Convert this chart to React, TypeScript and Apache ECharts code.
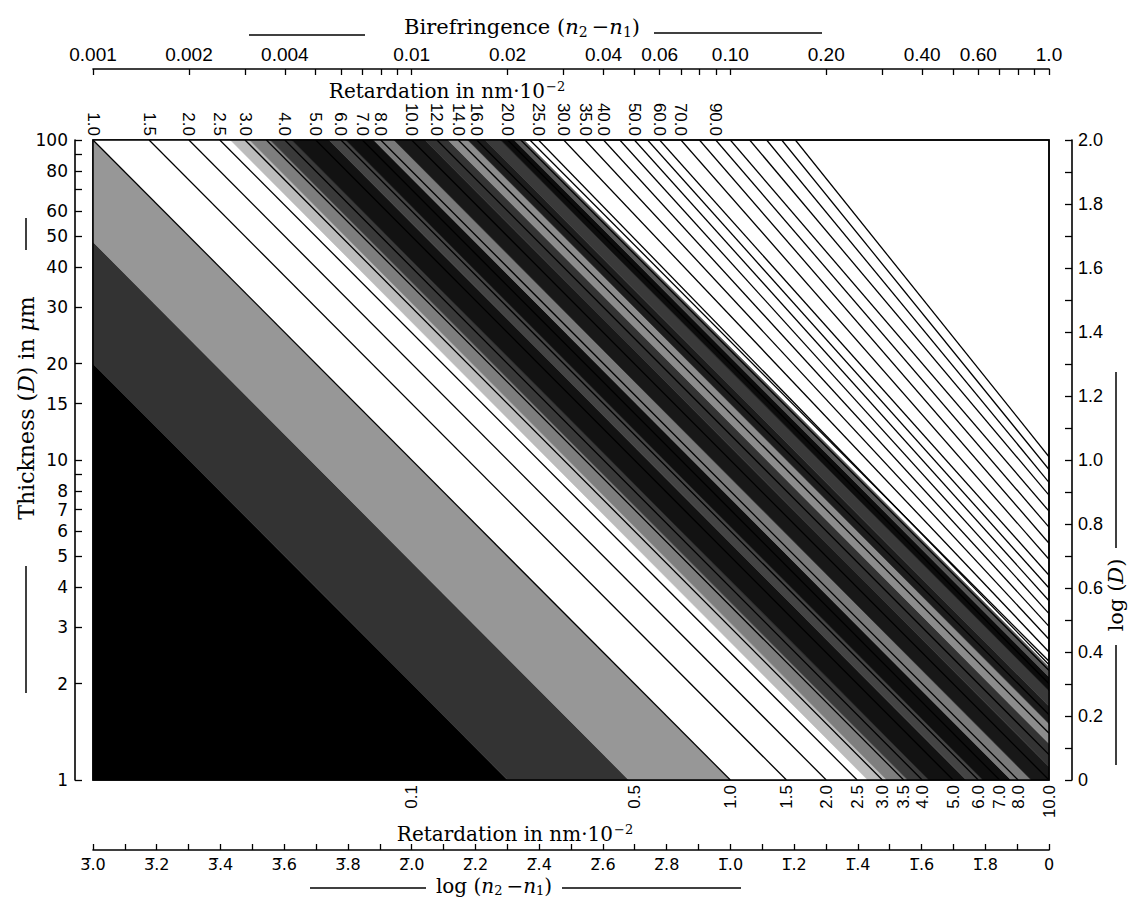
import React, { useEffect, useRef } from "react";
import * as echarts from "echarts";

// ---- Bottom axis: log(n2 - n1) ----
const logDnTickValues = [-3.0, -2.9, -2.8, -2.7, -2.6, -2.5, -2.4, -2.3, -2.2, -2.1, -2.0, -1.9, -1.8, -1.7, -1.6, -1.5, -1.4, -1.3, -1.2, -1.1, -1.0, -0.9, -0.8, -0.7, -0.6, -0.5, -0.4, -0.3, -0.2, -0.1, 0];
const logDnLabelValues = [-3.0, -2.8, -2.6, -2.4, -2.2, -2.0, -1.8, -1.6, -1.4, -1.2, -1.0, -0.8, -0.6, -0.4, -0.2, 0];
const logDnLabels = ["3\u0305.0", "3\u0305.2", "3\u0305.4", "3\u0305.6", "3\u0305.8", "2\u0305.0", "2\u0305.2", "2\u0305.4", "2\u0305.6", "2\u0305.8", "1\u0305.0", "1\u0305.2", "1\u0305.4", "1\u0305.6", "1\u0305.8", "0"];

// ---- Top axis: birefringence (n2 - n1) ----
const birefTicks = [0.001, 0.002, 0.003, 0.004, 0.005, 0.006, 0.007, 0.008, 0.009, 0.01, 0.02, 0.03, 0.04, 0.05, 0.06, 0.07, 0.08, 0.09, 0.1, 0.2, 0.3, 0.4, 0.5, 0.6, 0.7, 0.8, 0.9, 1.0];
const birefLabelValues = [0.001, 0.002, 0.004, 0.01, 0.02, 0.04, 0.06, 0.1, 0.2, 0.4, 0.6, 1.0];
const birefLabels = ["0.001", "0.002", "0.004", "0.01", "0.02", "0.04", "0.06", "0.10", "0.20", "0.40", "0.60", "1.0"];

// ---- Retardation labels (in nm·10^-2) ----
const retTopValues = [1.0, 1.5, 2.0, 2.5, 3.0, 4.0, 5.0, 6.0, 7.0, 8.0, 10.0, 12.0, 14.0, 16.0, 20.0, 25.0, 30.0, 35.0, 40.0, 50.0, 60.0, 70.0, 90.0];
const retBottomValues = [0.1, 0.5, 1.0, 1.5, 2.0, 2.5, 3.0, 3.5, 4.0, 5.0, 6.0, 7.0, 8.0, 10.0];

// ---- Left axis: thickness D in µm ----
const thicknessTicks = [1, 2, 3, 4, 5, 6, 7, 8, 9, 10, 15, 20, 30, 40, 50, 60, 70, 80, 90, 100];
const thicknessLabels = [1, 2, 3, 4, 5, 6, 7, 8, 10, 15, 20, 30, 40, 50, 60, 80, 100];

// ---- Right axis: log(D) ----
const logDTicks = [0, 0.1, 0.2, 0.3, 0.4, 0.5, 0.6, 0.7, 0.8, 0.9, 1.0, 1.1, 1.2, 1.3, 1.4, 1.5, 1.6, 1.7, 1.8, 1.9, 2.0];
const logDLabelValues = [0, 0.2, 0.4, 0.6, 0.8, 1.0, 1.2, 1.4, 1.6, 1.8, 2.0];
const logDLabels = ["0", "0.2", "0.4", "0.6", "0.8", "1.0", "1.2", "1.4", "1.6", "1.8", "2.0"];

// ---- Iso-retardation lines (nm·10^-2) ----
const retardationLines = [1.0, 1.5, 2.0, 2.5, 3.0, 3.5, 4.0, 5.0, 6.0, 7.0, 8.0, 10.0, 12.0, 14.0, 16.0, 20.0, 22.0, 23.5];

// ---- Upper-right fan of lines: retardation where each meets the top edge, log(D) where it meets the right edge ----
const fanTopR = [25, 30, 35, 40, 45, 50, 55, 60, 70, 80, 90, 100, 115, 130, 145, 160];
const fanRightLogD = [0.36, 0.40, 0.44, 0.48, 0.52, 0.56, 0.60, 0.64, 0.69, 0.74, 0.79, 0.84, 0.89, 0.93, 0.97, 1.01];

// ---- Grey interference bands (retardation ranges, nm·10^-2) ----
const bandLower = [0, 0.2, 0.48, 1.0, 2.7, 3.1, 3.6, 4.2, 5.5, 6.2, 7.6, 8.8, 11, 13, 15, 17, 19, 21];
const bandUpper = [0.2, 0.48, 1.0, 2.7, 3.1, 3.6, 4.2, 5.5, 6.2, 7.6, 8.8, 11, 13, 15, 17, 19, 21, 22.5];
const bandShade = ["#000000", "#333333", "#979797", "#ffffff", "#bcbcbc", "#7e7e7e", "#3a3a3a", "#121212", "#444444", "#0f0f0f", "#7a7a7a", "#181818", "#333333", "#8c8c8c", "#1c1c1c", "#3a3a3a", "#0c0c0c", "#555555"];

const log10 = (v: number) => Math.log10(v);
const pick = (v: number, vals: number[], labels: (string | number)[]) => {
  for (let i = 0; i < vals.length; i++) if (Math.abs(vals[i] - v) < 1e-6) return String(labels[i]);
  return "";
};

// x = log(dn) in [-3,0], y = log(D) in [0,2]; log R = x + y + 1
const clipHalf = (poly: number[][], f: (p: number[]) => number) => {
  const out: number[][] = [];
  for (let i = 0; i < poly.length; i++) {
    const cur = poly[i];
    const prev = poly[(i + poly.length - 1) % poly.length];
    const fc = f(cur), fp = f(prev);
    const inter = () => {
      const t = fp / (fp - fc);
      return [prev[0] + t * (cur[0] - prev[0]), prev[1] + t * (cur[1] - prev[1])];
    };
    if (fc >= 0) {
      if (fp < 0) out.push(inter());
      out.push(cur);
    } else if (fp >= 0) {
      out.push(inter());
    }
  }
  return out;
};

const SERIF = "'DejaVu Serif', 'Liberation Serif', serif";
const SANS = "'Liberation Sans', 'DejaVu Sans', sans-serif";
const DJ = "'DejaVu Sans', sans-serif";

export default function App() {
  const ref = useRef<HTMLDivElement>(null);
  useEffect(() => {
    document.body.style.margin = "0";
    const chart = echarts.init(ref.current!, null, { renderer: "svg" });

    const gridLeft = 93, gridTop = 140, gridW = 956, gridH = 640;
    const rich = (size: number) => ({
      a: { fontFamily: SERIF, fontSize: size, fill: "#000" },
      i: { fontFamily: SERIF, fontSize: size, fontStyle: "italic", fill: "#000" },
      s: { fontFamily: SERIF, fontSize: Math.round(size * 0.65), fill: "#000", padding: [Math.round(size * 0.45), 0, 0, 0] },
    });
    const supRich = { fontFamily: SERIF, fontSize: 13, fill: "#000", padding: [0, 0, 10, 1] };

    const lineItem = (api: any, p1: number[], p2: number[]) => {
      const a = api.coord(p1), b = api.coord(p2);
      return { type: "line", shape: { x1: a[0], y1: a[1], x2: b[0], y2: b[1] }, style: { stroke: "#000", lineWidth: 1.3 } };
    };

    const option: any = {
      animation: false,
      backgroundColor: "#ffffff",
      grid: { left: gridLeft, top: gridTop, width: gridW, height: gridH, show: true, backgroundColor: "#ffffff", borderColor: "#000", borderWidth: 1.5 },
      xAxis: [
        {
          type: "value", min: -3, max: 0, position: "bottom", offset: 70,
          axisLine: { show: true, onZero: false, lineStyle: { color: "#000", width: 1.6 } },
          axisTick: { show: true, inside: true, length: 6, customValues: logDnTickValues, lineStyle: { color: "#000", width: 1.3 } },
          axisLabel: { customValues: logDnLabelValues, formatter: (v: number) => pick(v, logDnLabelValues, logDnLabels), color: "#000", fontSize: 16, fontFamily: DJ, margin: 6 },
          splitLine: { show: false },
        },
        {
          type: "value", min: -3, max: 0, position: "bottom", offset: 0,
          axisLine: { show: false, onZero: false }, axisTick: { show: false },
          axisLabel: { customValues: retBottomValues.map((r) => log10(r) - 1), formatter: (v: number) => pick(v, retBottomValues.map((r) => log10(r) - 1), retBottomValues.map((r) => r.toFixed(1))), rotate: 90, color: "#000", fontSize: 17, fontFamily: SANS, margin: 5 },
          splitLine: { show: false },
        },
        {
          type: "value", min: -3, max: 0, position: "top", offset: 71,
          axisLine: { show: true, onZero: false, lineStyle: { color: "#000", width: 1.6 } },
          axisTick: { show: true, inside: true, length: 6, customValues: birefTicks.map(log10), lineStyle: { color: "#000", width: 1.3 } },
          axisLabel: { customValues: birefLabelValues.map(log10), formatter: (v: number) => pick(v, birefLabelValues.map(log10), birefLabels), color: "#000", fontSize: 19, fontFamily: SANS, margin: 5 },
          splitLine: { show: false },
        },
        {
          type: "value", min: -3, max: 0, position: "top", offset: 0,
          axisLine: { show: false, onZero: false }, axisTick: { show: false },
          axisLabel: { customValues: retTopValues.map((r) => log10(r) - 3), formatter: (v: number) => pick(v, retTopValues.map((r) => log10(r) - 3), retTopValues.map((r) => r.toFixed(1))), rotate: 90, color: "#000", fontSize: 17, fontFamily: SANS, margin: 4 },
          splitLine: { show: false },
        },
      ],
      yAxis: [
        {
          type: "value", min: 0, max: 2, position: "left", offset: 18,
          axisLine: { show: true, onZero: false, lineStyle: { color: "#000", width: 1.6 } },
          axisTick: { show: true, inside: true, length: 7, customValues: thicknessTicks.map(log10), lineStyle: { color: "#000", width: 1.3 } },
          axisLabel: { customValues: thicknessLabels.map(log10), formatter: (v: number) => pick(v, thicknessLabels.map(log10), thicknessLabels), color: "#000", fontSize: 17, fontFamily: DJ, margin: 7 },
          splitLine: { show: false },
        },
        {
          type: "value", min: 0, max: 2, position: "right", offset: 23,
          axisLine: { show: true, onZero: false, lineStyle: { color: "#000", width: 1.6 } },
          axisTick: { show: true, inside: true, length: 7, customValues: logDTicks, lineStyle: { color: "#000", width: 1.3 } },
          axisLabel: { customValues: logDLabelValues, formatter: (v: number) => pick(v, logDLabelValues, logDLabels), color: "#000", fontSize: 18, fontFamily: SANS, margin: 6 },
          splitLine: { show: false },
        },
      ],
      series: [
        {
          type: "custom", xAxisIndex: 0, yAxisIndex: 0, silent: true, clip: true, z: 1,
          data: bandLower.map((lo, i) => [lo, bandUpper[i], i]),
          renderItem: (params: any, api: any) => {
            const lo = api.value(0), hi = api.value(1), idx = api.value(2);
            let poly = [[-3, 0], [0, 0], [0, 2], [-3, 2]];
            if (lo > 0) {
              const s0 = log10(lo) - 1;
              poly = clipHalf(poly, (p) => p[0] + p[1] - s0);
            }
            const s1 = log10(hi) - 1;
            poly = clipHalf(poly, (p) => s1 - (p[0] + p[1]));
            if (poly.length < 3) return null;
            const pts = poly.map((p) => api.coord(p));
            const c = bandShade[idx];
            return { type: "polygon", shape: { points: pts }, style: { fill: c, stroke: c, lineWidth: 0.6 } };
          },
        },
        {
          type: "custom", xAxisIndex: 0, yAxisIndex: 0, silent: true, clip: true, z: 2,
          data: retardationLines.map((r) => [r]),
          renderItem: (params: any, api: any) => {
            const r = api.value(0);
            const s = log10(r) - 1;
            if (s < -3 || s > 2) return null;
            const p1 = s <= -1 ? [-3, s + 3] : [s - 2, 2];
            const p2 = s >= 0 ? [0, s] : [s, 0];
            return lineItem(api, p1, p2);
          },
        },
        {
          type: "custom", xAxisIndex: 0, yAxisIndex: 0, silent: true, clip: true, z: 2,
          data: fanTopR.map((r, i) => [r, fanRightLogD[i]]),
          renderItem: (params: any, api: any) => {
            const r = api.value(0), yd = api.value(1);
            return lineItem(api, [log10(r) - 3, 2], [0, yd]);
          },
        },
      ],
      graphic: [
        { type: "rect", z: 100, silent: true, shape: { x: gridLeft, y: gridTop, width: gridW, height: gridH }, style: { fill: "none", stroke: "#000", lineWidth: 1.5 } },
        // top title
        { type: "text", z: 100, x: 522, y: 27, style: { text: "{a|Birefringence (}{i|n}{s|2}{a|\u2009\u2212}{i|n}{s|1}{a|)}", align: "center", verticalAlign: "middle", rich: rich(21) } },
        { type: "line", z: 100, shape: { x1: 249, y1: 35, x2: 365, y2: 35 }, style: { stroke: "#000", lineWidth: 1.5 } },
        { type: "line", z: 100, shape: { x1: 654, y1: 33, x2: 822, y2: 33 }, style: { stroke: "#000", lineWidth: 1.5 } },
        { type: "text", z: 100, x: 447, y: 91, style: { text: "{a|Retardation in nm\u00b710}{s|\u22122}", align: "center", verticalAlign: "middle", rich: { ...rich(20), s: supRich } } },
        // bottom titles
        { type: "text", z: 100, x: 515, y: 834, style: { text: "{a|Retardation in nm\u00b710}{s|\u22122}", align: "center", verticalAlign: "middle", rich: { ...rich(20), s: supRich } } },
        { type: "text", z: 100, x: 494, y: 886, style: { text: "{a|log (}{i|n}{s|2}{a|\u2009\u2212}{i|n}{s|1}{a|)}", align: "center", verticalAlign: "middle", rich: rich(20) } },
        { type: "line", z: 100, shape: { x1: 310, y1: 888, x2: 426, y2: 888 }, style: { stroke: "#000", lineWidth: 1.5 } },
        { type: "line", z: 100, shape: { x1: 562, y1: 888, x2: 741, y2: 888 }, style: { stroke: "#000", lineWidth: 1.5 } },
        // left title
        { type: "text", z: 100, x: 26, y: 408, rotation: Math.PI / 2, style: { text: "{a|Thickness (}{i|D}{a|) in }{i|\u03bc}{a|m}", align: "center", verticalAlign: "middle", rich: rich(22) } },
        { type: "line", z: 100, shape: { x1: 26, y1: 566, x2: 26, y2: 693 }, style: { stroke: "#000", lineWidth: 1.5 } },
        { type: "line", z: 100, shape: { x1: 26, y1: 218, x2: 26, y2: 250 }, style: { stroke: "#000", lineWidth: 1.5 } },
        // right title
        { type: "text", z: 100, x: 1116, y: 595, rotation: Math.PI / 2, style: { text: "{a|log (}{i|D}{a|)}", align: "center", verticalAlign: "middle", rich: rich(21) } },
        { type: "line", z: 100, shape: { x1: 1116, y1: 372, x2: 1116, y2: 548 }, style: { stroke: "#000", lineWidth: 1.5 } },
        { type: "line", z: 100, shape: { x1: 1116, y1: 645, x2: 1116, y2: 765 }, style: { stroke: "#000", lineWidth: 1.5 } },
      ],
    };
    chart.setOption(option);
    return () => chart.dispose();
  }, []);
  return <div ref={ref} style={{ width: 1130, height: 897 }} />;
}
